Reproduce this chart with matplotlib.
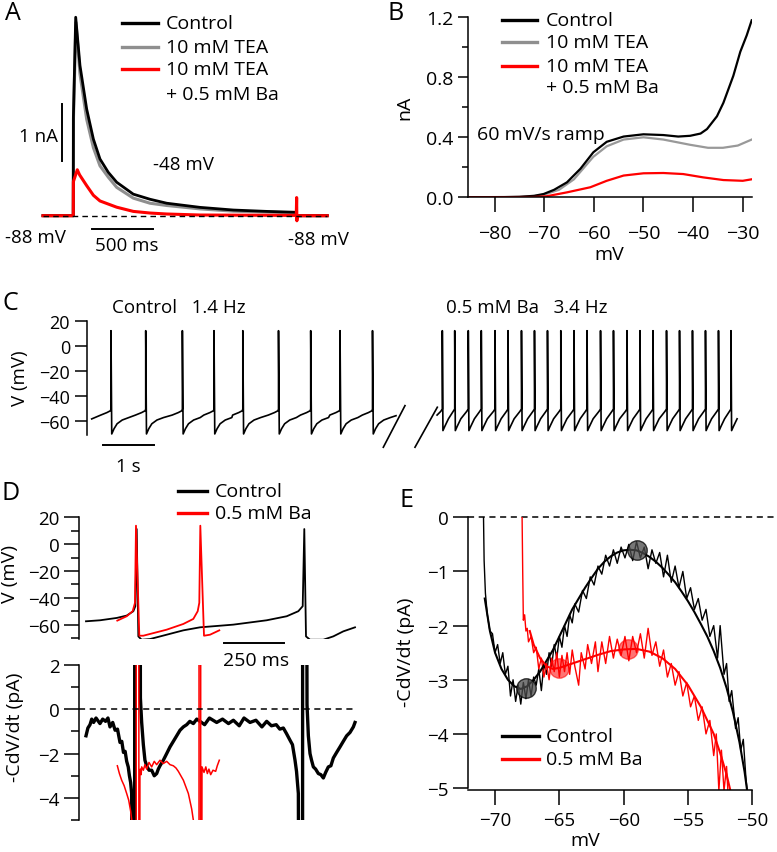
import matplotlib
matplotlib.use('Agg')
import matplotlib.pyplot as plt
from matplotlib.lines import Line2D
from matplotlib.ticker import MultipleLocator

plt.rcParams['font.family'] = ['Open Sans', 'DejaVu Sans']
plt.rcParams['axes.linewidth'] = 1.1
plt.rcParams['xtick.major.width'] = 1.1
plt.rcParams['ytick.major.width'] = 1.1
plt.rcParams['xtick.minor.width'] = 1.1
plt.rcParams['ytick.minor.width'] = 1.1

RED = '#ff0000'
GRAY = '#8f8f8f'

# ---- panel A: current (nA) vs time (ms) at -48 mV step
a_t_ctrl = [0, 248, 249.5, 268, 303, 358, 413, 467, 535, 604, 740, 877, 1014, 1287, 1560, 1833, 2074, 2080, 2330]
a_i_ctrl = [0, 0, 1.76, 3.5, 2.65, 1.88, 1.35, 1.0, 0.765, 0.59, 0.38, 0.29, 0.22, 0.147, 0.10, 0.076, 0.06, 0, 0]
a_t_tea = [0, 248, 249.5, 270, 303, 358, 413, 467, 535, 604, 740, 877, 1014, 1287, 1560, 2074, 2080, 2330]
a_i_tea = [0, 0, 1.7, 3.41, 2.5, 1.7, 1.2, 0.88, 0.68, 0.5, 0.31, 0.22, 0.18, 0.12, 0.08, 0.05, 0, 0]
a_t_ba = [0, 248, 249, 281, 300, 358, 413, 467, 604, 740, 877, 1014, 1287, 2076, 2079, 2081, 2084, 2330]
a_i_ba = [0, 0, 0.6, 0.81, 0.72, 0.53, 0.36, 0.26, 0.15, 0.076, 0.047, 0.03, 0.012, 0.005, 0.32, -0.09, 0, 0]

# ---- panel B: ramp current (nA) vs voltage (mV)
b_mv_ctrl = [-85.4, -80, -75, -72, -70.1, -68, -65.4, -62.7, -60.1, -57.4, -54, -50, -46, -43, -40.6,
             -38.5, -37.2, -35.2, -33.9, -31.9, -30.5, -29.2, -28.2]
b_na_ctrl = [0, 0, 0.003, 0.01, 0.022, 0.05, 0.10, 0.19, 0.30, 0.37, 0.405, 0.42, 0.415, 0.405, 0.41,
             0.425, 0.455, 0.54, 0.63, 0.81, 0.97, 1.08, 1.18]
b_mv_tea = [-85.4, -75, -72, -70, -67, -64, -60.1, -57.4, -54, -50, -46, -40.6, -37, -34, -31, -28.2]
b_na_tea = [0, 0.003, 0.008, 0.018, 0.05, 0.12, 0.27, 0.34, 0.385, 0.40, 0.385, 0.35, 0.33, 0.33, 0.345, 0.385]
b_mv_ba = [-85.4, -72, -69.5, -65.4, -60.7, -57.4, -54, -50, -46, -42, -38, -33.9, -30, -28.2]
b_na_ba = [0, 0.002, 0.007, 0.033, 0.067, 0.11, 0.145, 0.16, 0.162, 0.155, 0.133, 0.115, 0.11, 0.12]

# ---- panel C: spike trains, spike times (s) and waveform points
c_ctrl_spikes = [0.476, 1.157, 1.876, 2.496, 3.061, 3.761, 4.392, 4.967, 5.604]
c_ctrl_start = (0.098, -58.6)
c_ctrl_end = (6.065, -56.0)
c_ctrl_post_dt = [0.0, 0.015, 0.06, 0.12, 0.22, 0.35]
c_ctrl_post_v = [12.4, -70.7, -66.5, -62.5, -59.5, -57.5]
c_ctrl_pre_dt = [-0.2, -0.08, -0.01, 0.0]
c_ctrl_pre_v = [-55.5, -53.5, -52.0, -50.6]

c_ba_spikes = [6.973, 7.216, 7.482, 7.737, 8.006, 8.261, 8.525, 8.780, 9.035, 9.296, 9.555, 9.810,
               10.075, 10.329, 10.594, 10.849, 11.104, 11.369, 11.624, 11.878, 12.133, 12.388, 12.633]
c_ba_start = (6.87, -55.5)
c_ba_post_dt = [0.0, 0.012, 0.05, 0.12]
c_ba_post_v = [12.4, -68.0, -64.5, -58.5]
c_ba_pre_dt = [-0.03, 0.0]
c_ba_pre_v = [-52.5, -50.6]

c_break1_t = [5.816, 6.241]
c_break1_v = [-81.4, -47.9]
c_break2_t = [6.437, 6.875]
c_break2_v = [-81.4, -49.2]

# ---- panel D: voltage (mV) and -CdV/dt (pA) vs time (ms)
d_t_ctrl = [28, 87, 157, 198.5, 226.4, 234.8, 240.5, 247.3, 261, 296, 366, 435.7, 505.7, 645, 785,
            868.9, 917.5, 935.9, 942.6, 949.7, 966.5, 1022, 1064, 1106, 1155]
d_v_ctrl = [-57.5, -56.75, -55, -53.25, -50, -46.25, 11.25, -68.75, -71.25, -70.75, -67.5, -64.25, -62,
            -60, -56.75, -53.75, -50, -46.25, 11.25, -68.75, -71.25, -71.25, -68.75, -65, -62]
d_t_ba = [159.2, 198.5, 223.5, 233.3, 237.5, 251.4, 268, 366, 435.7, 477.6, 496, 502.7, 507, 522.4, 547.6, 586.5]
d_v_ba = [-57, -53.75, -50, -43.75, 13.75, -68.25, -68.25, -63.75, -59.5, -55.75, -50, -43.75, 13.75,
          -68.25, -67.5, -64.25]

d_tc_ctrl = [28.1, 36, 44.9, 52, 60, 70, 86.7, 98, 110, 120, 128.6, 140, 150, 160, 170.5, 178, 185, 192,
             198.5, 205, 210, 215, 219.4, 226.4, 231, 233, 252, 256, 261.3, 268.3, 275, 282.3, 292, 303.2,
             314, 324.2, 331, 338.1, 352, 366.1, 380, 394, 408, 422, 435.9, 450, 463, 477.8, 492, 505.7,
             525, 545, 575.5, 600, 625, 645.4, 670, 690, 715.2, 740, 765, 785, 805, 825, 840, 854.8, 868,
             882.8, 893, 903.7, 910, 917.7, 924.7, 935, 936, 948, 954, 959.6, 966.5, 973, 980.5, 990,
             1001.4, 1012, 1022.4, 1032, 1043.3, 1054, 1064.3, 1078, 1092.2, 1106, 1120.1, 1134, 1148.1, 1155]
d_c_ctrl = [-1.2, -0.85, -0.7, -0.45, -0.6, -0.4, -0.65, -0.45, -0.55, -0.4, -0.8, -0.6, -0.95, -0.9, -1.5,
            -1.45, -1.95, -1.9, -2.35, -2.6, -3.0, -3.3, -3.8, -30, -30, 30, 30, 0.5, -0.6, -1.6, -2.3,
            -2.55, -2.75, -2.75, -3.0, -2.9, -2.7, -2.55, -2.3, -2.0, -1.7, -1.45, -1.2, -0.95, -0.8, -0.7,
            -0.55, -0.65, -0.45, -0.55, -0.7, -0.4, -0.6, -0.45, -0.65, -0.5, -0.75, -0.4, -0.6, -0.5, -0.8,
            -0.55, -0.75, -0.7, -0.9, -0.85, -1.1, -1.4, -1.6, -2.3, -2.8, -3.8, -30, -30, 30, 30, 0.2,
            -1.2, -2.0, -2.3, -2.6, -2.7, -2.9, -2.95, -3.1, -2.85, -2.6, -2.55, -2.2, -1.95, -1.7, -1.45,
            -1.2, -1.05, -0.8, -0.6]
d_tc_ba = [159.4, 168, 177.5, 188, 198.5, 207, 215.2, 222.2, 226, 238.5, 238.6, 249.5, 249.6, 251, 254,
           256, 259, 261.3, 268.3, 275, 282.3, 292, 303.2, 314, 324.2, 338.1, 352, 366.1, 380, 394, 405,
           414.9, 436, 456.9, 470.9, 480.6, 484, 501.5, 501.6, 508.5, 508.6, 510, 514, 522.5, 530, 536.4,
           543, 550.4, 560, 571.3, 578, 586.5]
d_c_ba = [-2.55, -2.9, -3.2, -3.45, -3.8, -4.1, -4.6, -5.2, -30, -30, 30, 30, -30, -30, -2.9, -2.7, -2.95,
          -2.6, -2.75, -2.5, -2.7, -2.4, -2.6, -2.35, -2.5, -2.3, -2.45, -2.35, -2.5, -2.55, -2.65, -2.8,
          -3.2, -3.8, -4.5, -5.2, -30, -30, 30, 30, -30, -30, -2.6, -2.85, -2.6, -2.9, -2.7, -2.95, -2.75,
          -2.8, -2.55, -2.3]

# ---- panel E: -CdV/dt (pA) vs V (mV), raw and fitted
e_mv_ctrl_raw = [-70.9, -70.85, -70.75, -70.6, -70.4, -70.2, -70.0, -69.8, -69.6, -69.4, -69.2, -69.0, -68.8,
                 -68.6, -68.4, -68.2, -68.0, -67.8, -67.6, -67.4, -67.2, -67.0, -66.8, -66.6, -66.4, -66.2,
                 -66.0, -65.8, -65.6, -65.4, -65.2, -65.0, -64.8, -64.6, -64.4, -64.2, -64.0, -63.8, -63.5,
                 -63.2, -62.9, -62.6, -62.3, -62.0, -61.7, -61.4, -61.1, -60.8, -60.5, -60.2, -59.9, -59.6,
                 -59.3, -59.0, -58.7, -58.4, -58.1, -57.8, -57.5, -57.2, -56.9, -56.6, -56.3, -56.0, -55.7,
                 -55.4, -55.1, -54.8, -54.5, -54.2, -53.9, -53.6, -53.3, -53.0, -52.7, -52.5, -52.2, -52.0,
                 -51.8, -51.6, -51.3, -51.1, -50.9, -50.7, -50.5, -50.4]
e_pa_ctrl_raw = [0.05, -0.8, -1.4, -1.8, -2.1, -2.15, -2.5, -2.35, -2.7, -2.5, -2.9, -2.75, -3.3, -3.0, -3.4,
                 -3.1, -3.45, -3.05, -3.35, -3.0, -3.3, -2.95, -3.1, -2.8, -3.2, -2.7, -2.9, -2.5, -2.75,
                 -2.35, -2.6, -2.2, -2.4, -2.0, -2.2, -1.8, -1.95, -1.6, -1.75, -1.35, -1.5, -1.1, -1.25,
                 -0.9, -1.05, -0.7, -0.9, -0.6, -0.85, -0.55, -0.75, -0.5, -0.8, -0.45, -0.75, -0.55, -0.95,
                 -0.6, -0.85, -0.65, -1.1, -0.7, -1.2, -0.9, -1.3, -1.0, -1.5, -1.3, -1.7, -1.5, -1.9, -1.7,
                 -2.2, -2.0, -2.6, -2.0, -2.9, -2.7, -3.4, -3.2, -3.9, -3.7, -4.3, -4.1, -4.8, -5.05]
e_mv_ctrl_fit = [-70.8, -70.4, -70.0, -69.5, -69.0, -68.5, -68.0, -67.5, -67.0, -66.5, -66.0, -65.5, -65.0,
                 -64.5, -64.0, -63.5, -63.0, -62.5, -62.0, -61.5, -61.0, -60.5, -60.0, -59.5, -59.0, -58.5,
                 -58.0, -57.5, -57.0, -56.5, -56.0, -55.5, -55.0, -54.5, -54.0, -53.5, -53.0, -52.5, -52.0,
                 -51.5, -51.0, -50.6, -50.4]
e_pa_ctrl_fit = [-1.5, -2.1, -2.5, -2.8, -3.0, -3.12, -3.17, -3.12, -3.0, -2.85, -2.65, -2.45, -2.2, -1.95,
                 -1.7, -1.5, -1.3, -1.12, -0.95, -0.82, -0.72, -0.65, -0.61, -0.6, -0.61, -0.66, -0.73, -0.82,
                 -0.93, -1.06, -1.2, -1.37, -1.55, -1.75, -1.97, -2.2, -2.47, -2.78, -3.15, -3.6, -4.15, -4.7,
                 -5.05]
e_mv_ba_raw = [-67.9, -67.85, -67.8, -67.7, -67.6, -67.5, -67.4, -67.2, -67.0, -66.8, -66.6, -66.4, -66.2,
               -66.0, -65.8, -65.6, -65.4, -65.2, -65.0, -64.8, -64.6, -64.4, -64.2, -64.0, -63.8, -63.5,
               -63.3, -63.0, -62.8, -62.5, -62.2, -62.0, -61.7, -61.4, -61.1, -60.8, -60.5, -60.2, -59.9,
               -59.6, -59.3, -59.0, -58.7, -58.4, -58.1, -57.8, -57.5, -57.2, -56.9, -56.6, -56.3, -56.0,
               -55.7, -55.4, -55.1, -54.8, -54.5, -54.2, -53.9, -53.6, -53.3, -53.0, -52.8, -52.6, -52.4,
               -52.2, -52.0, -51.9]
e_pa_ba_raw = [0.05, -1.0, -1.9, -1.8, -2.1, -2.05, -2.3, -2.2, -2.5, -2.4, -2.8, -2.6, -2.95, -2.7, -3.0,
               -2.6, -2.85, -2.5, -2.95, -2.55, -2.85, -2.5, -2.9, -2.45, -2.75, -3.1, -2.5, -2.8, -2.35,
               -2.7, -2.3, -2.85, -2.3, -2.7, -2.2, -2.6, -2.25, -2.55, -2.2, -2.65, -2.2, -2.5, -2.15,
               -2.6, -2.05, -2.55, -2.3, -2.75, -2.45, -2.95, -2.7, -3.1, -2.85, -3.3, -3.05, -3.5, -3.3,
               -3.75, -3.5, -4.0, -3.75, -4.4, -4.0, -5.05, -4.3, -5.05, -4.6, -5.05]
e_mv_ba_fit = [-67.3, -67.0, -66.5, -66.0, -65.5, -65.0, -64.0, -63.0, -62.0, -61.0, -60.0, -59.0, -58.0,
               -57.0, -56.0, -55.0, -54.0, -53.0, -52.5, -52.0, -51.7]
e_pa_ba_fit = [-2.1, -2.35, -2.6, -2.75, -2.8, -2.78, -2.7, -2.62, -2.54, -2.47, -2.44, -2.43, -2.48, -2.6,
               -2.8, -3.1, -3.5, -4.0, -4.35, -4.75, -5.05]
e_pts_ctrl = ([-67.6, -59.0], [-3.15, -0.6])
e_pts_ba = ([-65.0, -59.7], [-2.78, -2.43])

W, H = 777, 853
fig = plt.figure(figsize=(W / 100, H / 100), dpi=100)


def rect(l, t, r, b):
    return [l / W, 1 - b / H, (r - l) / W, (b - t) / H]


def ftext(x, y, s, size=13.5, **kw):
    kw.setdefault('ha', 'left')
    kw.setdefault('va', 'center')
    fig.text(x / W, 1 - y / H, s, fontsize=size, **kw)


def fline(xs, ys, color='black', lw=1.3, **kw):
    fig.add_artist(Line2D([x / W for x in xs], [1 - y / H for y in ys], color=color, lw=lw,
                          transform=fig.transFigure, **kw))


def legend_rows(x0, x1, xt, rows):
    for y, color, label in rows:
        fline([x0, x1], [y, y], color=color, lw=2.4)
        ftext(xt, y, label, size=14)


def train(start, spikes, post_dt, post_v, pre_dt, pre_v, end=None):
    ts, vs = [start[0]], [start[1]]
    for s in spikes:
        ts += [s + d for d in pre_dt]
        vs += list(pre_v)
        ts += [s + d for d in post_dt]
        vs += list(post_v)
    if end is not None:
        ts.append(end[0])
        vs.append(end[1])
    return ts, vs


# ================= A =================
axA = fig.add_axes(rect(40, 5, 360, 260))
axA.set_xlim((40 - 43) / 0.122, (360 - 43) / 0.122)
axA.set_ylim(-(260 - 216.7) / 56.7, (216.7 - 5) / 56.7)
axA.axis('off')
axA.plot(a_t_tea, a_i_tea, color=GRAY, lw=2.2)
axA.plot(a_t_ctrl, a_i_ctrl, color='black', lw=2.0)
axA.plot(a_t_ba, a_i_ba, color=RED, lw=2.2)
axA.plot([0, 2330], [0, 0], color='black', lw=1.0, dashes=(4, 3))
fline([61.7, 61.7], [105, 161.7], lw=1.4)
fline([91.7, 152.7], [230, 230], lw=1.4)
ftext(19, 137, '1 nA')
ftext(153, 165, '-48 mV')
ftext(5, 238, '-88 mV')
ftext(95, 246, '500 ms')
ftext(288, 240, '-88 mV')
legend_rows(121.7, 158.3, 166, [(24, 'black', 'Control'), (47.7, GRAY, '10 mM TEA'),
                                 (70, RED, '10 mM TEA')])
ftext(166, 95, '+ 0.5 mM Ba', size=14)
ftext(5, 14, 'A', size=18)

# ================= B =================
axB = fig.add_axes(rect(467.7, 18.3, 751.7, 198.3))
axB.plot(b_mv_tea, b_na_tea, color='#999999', lw=1.6)
axB.plot(b_mv_ctrl, b_na_ctrl, color='black', lw=1.6)
axB.plot(b_mv_ba, b_na_ba, color=RED, lw=1.6)
axB.set_xlim(-85.4, -28.2)
axB.set_ylim(0, 1.2)
for sp in ('top', 'right'):
    axB.spines[sp].set_visible(False)
axB.set_yticks([0, 0.4, 0.8, 1.2])
axB.set_yticklabels(['0.0', '0.4', '0.8', '1.2'])
axB.yaxis.set_minor_locator(MultipleLocator(0.2))
axB.set_xticks([-80, -70, -60, -50, -40, -30])
axB.tick_params(axis='y', which='major', length=7.5, pad=3, labelsize=14)
axB.tick_params(axis='y', which='minor', length=4.5)
axB.tick_params(axis='x', which='major', length=11, pad=8, labelsize=14)
ftext(609, 255, 'mV', ha='center', size=14)
ftext(404, 108, 'nA', ha='center', rotation=90, size=14)
ftext(477, 135, '60 mV/s ramp', size=14)
legend_rows(501.7, 536.7, 546, [(21, 'black', 'Control'), (43, GRAY, '10 mM TEA'),
                                 (67, RED, '10 mM TEA')])
ftext(546, 88, '+ 0.5 mM Ba', size=14)
ftext(388, 14, 'B', size=18)

# ================= C =================
axC = fig.add_axes(rect(86.7, 320.4, 745, 435.7))
axC.set_xlim(0, (745 - 86.7) / 51)
axC.set_ylim(-71.3, 21.5)
ct, cv = train(c_ctrl_start, c_ctrl_spikes, c_ctrl_post_dt, c_ctrl_post_v, c_ctrl_pre_dt, c_ctrl_pre_v,
               c_ctrl_end)
bt, bv = train(c_ba_start, c_ba_spikes, c_ba_post_dt, c_ba_post_v, c_ba_pre_dt, c_ba_pre_v)
axC.plot(ct, cv, color='black', lw=1.2)
axC.plot(bt, bv, color='black', lw=1.2)
axC.plot(c_break1_t, c_break1_v, color='black', lw=1.2, clip_on=False)
axC.plot(c_break2_t, c_break2_v, color='black', lw=1.2, clip_on=False)
for sp in ('top', 'right', 'bottom'):
    axC.spines[sp].set_visible(False)
axC.spines['left'].set_bounds(-71.3, 20)
axC.set_xticks([])
axC.set_yticks([20, 0, -20, -40, -60])
axC.tick_params(axis='y', length=9, pad=3, labelsize=13)
fline([102.6, 153.6], [446, 446], lw=1.4)
ftext(128, 467, '1 s', ha='center')
ftext(20, 378, 'V (mV)', ha='center', rotation=90)
ftext(112, 308, 'Control   1.4 Hz')
ftext(446, 308, '0.5 mM Ba   3.4 Hz')
ftext(3, 303, 'C', size=18)

# ================= D top =================
axD1 = fig.add_axes(rect(79.3, 518.3, 360, 640))
axD1.set_xlim(0, (360 - 79.3) / 0.2387)
axD1.set_ylim(-70.7, 20)
axD1.plot(d_t_ctrl, d_v_ctrl, color='black', lw=1.3)
axD1.plot(d_t_ba, d_v_ba, color=RED, lw=1.3)
for sp in ('top', 'right', 'bottom'):
    axD1.spines[sp].set_visible(False)
axD1.set_xticks([])
axD1.set_yticks([20, 0, -20, -40, -60])
axD1.yaxis.set_minor_locator(MultipleLocator(10))
axD1.tick_params(axis='y', which='major', length=11, pad=3, labelsize=13.5)
axD1.tick_params(axis='y', which='minor', length=5.5)
fline([224.3, 284], [644, 644], lw=1.4)
ftext(256, 661, '250 ms', ha='center', size=14)
ftext(10, 574, 'V (mV)', ha='center', rotation=90, size=14)
legend_rows(178.3, 206.7, 215, [(491.7, 'black', 'Control'), (514.3, RED, '0.5 mM Ba')])
ftext(1, 494, 'D', size=18)

# ================= D bottom =================
axD2 = fig.add_axes(rect(79.3, 665.7, 360, 821.2))
axD2.set_xlim(0, (360 - 79.3) / 0.2387)
axD2.set_ylim(-5, 2)
axD2.plot(d_tc_ctrl, d_c_ctrl, color='black', lw=2.4)
axD2.plot(d_tc_ba, d_c_ba, color=RED, lw=1.1)
axD2.plot([0, 1155], [0, 0], color='black', lw=1.1, dashes=(4, 3))
for sp in ('top', 'right', 'bottom'):
    axD2.spines[sp].set_visible(False)
axD2.set_xticks([])
axD2.set_yticks([2, 0, -2, -4])
axD2.yaxis.set_minor_locator(MultipleLocator(1))
axD2.tick_params(axis='y', which='major', length=11, pad=3, labelsize=13.5)
axD2.tick_params(axis='y', which='minor', length=5.5)
ftext(15, 727, '-CdV/dt (pA)', ha='center', rotation=90, size=14)

# ================= E =================
axE = fig.add_axes(rect(468.3, 518.3, 752.3, 790.7))
axE.set_xlim(-72.08, -50)
axE.set_ylim(-5.03, 0)
axE.plot([-72.08, -48.1], [0, 0], color='black', lw=1.1, dashes=(4, 3), clip_on=False)
axE.plot(e_mv_ctrl_raw, e_pa_ctrl_raw, color='black', lw=1.0)
axE.plot(e_mv_ba_raw, e_pa_ba_raw, color=RED, lw=1.0)
axE.plot(e_mv_ctrl_fit, e_pa_ctrl_fit, color='black', lw=1.5)
axE.plot(e_mv_ba_fit, e_pa_ba_fit, color=RED, lw=1.5)
axE.plot(*e_pts_ctrl, 'o', ms=14, mfc='#4a4a4a', mec='black', alpha=0.75)
axE.plot(*e_pts_ba, 'o', ms=14, mfc=RED, mec=RED, alpha=0.55)
for sp in ('top', 'right'):
    axE.spines[sp].set_visible(False)
axE.spines['left'].set_bounds(-5.0, 0)
axE.set_yticks([0, -1, -2, -3, -4, -5])
axE.set_xticks([-70, -65, -60, -55, -50])
axE.tick_params(axis='y', length=11, pad=3, labelsize=13.5)
axE.tick_params(axis='x', length=11, pad=4, labelsize=13.5)
ftext(585, 841, 'mV', ha='center', size=14)
ftext(406, 652, '-CdV/dt (pA)', ha='center', rotation=90, size=14)
legend_rows(501.7, 539.3, 546, [(737.3, 'black', 'Control'), (760, RED, '0.5 mM Ba')])
ftext(400, 501, 'E', size=18)

fig.savefig('out.png', dpi=100)
